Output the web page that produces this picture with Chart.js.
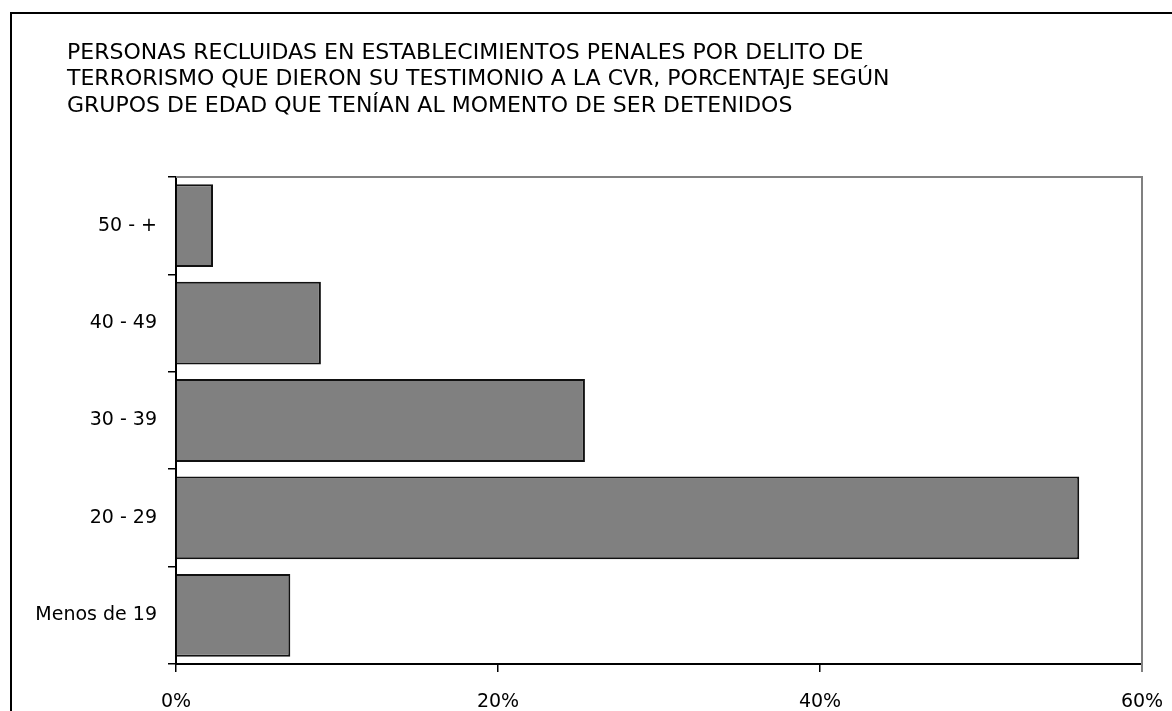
<!DOCTYPE html>
<html>
<head>
<meta charset="utf-8">
<script src="https://cdn.jsdelivr.net/npm/chart.js@4/dist/chart.umd.min.js"></script>
<style>
  html, body { margin: 0; padding: 0; background: #fff; }
  #wrap { width: 1172px; height: 711px; }
</style>
</head>
<body>
<div id="wrap"><canvas id="edades" width="1172" height="711"></canvas></div>
<script>
var grupos = ["50 - +", "40 - 49", "30 - 39", "20 - 29", "Menos de 19"];
var porcentajes = [2.3, 9.0, 25.4, 56.1, 7.1];
var ticksX = [0, 20, 40, 60];
var titulo = [
  "PERSONAS RECLUIDAS EN ESTABLECIMIENTOS PENALES POR DELITO DE",
  "TERRORISMO QUE DIERON SU TESTIMONIO A LA CVR, PORCENTAJE SEGÚN",
  "GRUPOS DE EDAD QUE TENÍAN AL MOMENTO DE SER DETENIDOS"
];

var fuente = "'DejaVu Sans', Verdana, sans-serif";

// marco exterior, titulo y bordes grises del area de trazado
var marco = {
  id: 'marco',
  beforeDraw: function(chart) {
    var c = chart.ctx;
    c.save();
    c.fillStyle = '#fff';
    c.fillRect(0, 0, chart.width, chart.height);
    c.strokeStyle = '#000';
    c.lineWidth = 2;
    c.strokeRect(11, 13, chart.width + 20, chart.height + 20);
    // titulo en tres lineas
    c.fillStyle = '#000';
    c.font = "22px " + fuente;
    c.textAlign = 'left';
    c.textBaseline = 'middle';
    titulo.forEach(function(linea, i) {
      c.fillText(linea, 67, 53 + i * 26.5);
    });
    c.restore();
  },
  afterDatasetsDraw: function(chart) {
    var a = chart.chartArea;
    var c = chart.ctx;
    c.save();
    c.strokeStyle = '#808080';
    c.lineWidth = 2;
    c.beginPath();
    c.moveTo(a.left, a.top);
    c.lineTo(a.right, a.top);
    c.lineTo(a.right, a.bottom + 8);
    c.stroke();
    c.restore();
  }
};

var ctx = document.getElementById("edades");
var chart = new Chart(ctx, {
  type: 'bar',
  data: {
    labels: grupos,
    datasets: [{
      data: porcentajes,
      backgroundColor: '#808080',
      borderColor: '#111',
      borderWidth: 2,
      barPercentage: 0.85,
      categoryPercentage: 1
    }]
  },
  options: {
    indexAxis: 'y',
    responsive: false,
    animation: false,
    layout: { padding: { left: 10, top: 177, right: 30, bottom: 0 } },
    plugins: {
      legend: { display: false },
      tooltip: { enabled: false },
      title: { display: false }
    },
    scales: {
      x: {
        min: 0,
        max: 60,
        afterBuildTicks: function(scale) {
          scale.ticks = ticksX.map(function(v) { return { value: v }; });
        },
        afterFit: function(scale) {
          scale.height = 47;
          scale.paddingLeft = 0;
          scale.paddingRight = 0;
        },
        border: { display: true, color: '#000', width: 2 },
        grid: { drawOnChartArea: false, drawTicks: true, tickLength: 8, color: '#000', lineWidth: 1.5 },
        ticks: {
          color: '#000',
          padding: 19,
          maxRotation: 0,
          font: { family: fuente, size: 19 },
          callback: function(v) { return v + '%'; }
        }
      },
      y: {
        afterFit: function(scale) { scale.width = 166; },
        border: { display: true, color: '#000', width: 2 },
        grid: { drawOnChartArea: false, drawTicks: true, tickLength: 8, color: '#000', lineWidth: 1.5 },
        ticks: {
          color: '#000',
          padding: 11,
          font: { family: fuente, size: 19 }
        }
      }
    }
  },
  plugins: [marco]
});
</script>
</body>
</html>
